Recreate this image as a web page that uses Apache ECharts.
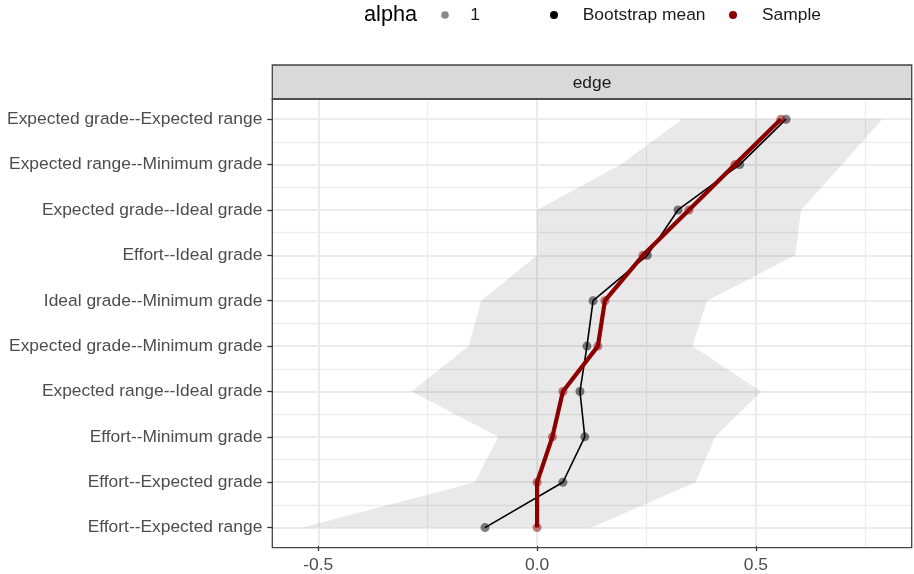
<!DOCTYPE html>
<html><head><meta charset="utf-8">
<script src="https://cdn.jsdelivr.net/npm/echarts@6/dist/echarts.min.js"></script>
<style>html,body{margin:0;padding:0;background:#fff}#c{width:914px;height:574px}</style>
</head><body><div id="c"></div>
<script>
// ---- data (top to bottom) ----
const edges = [
  'Expected grade--Expected range',
  'Expected range--Minimum grade',
  'Expected grade--Ideal grade',
  'Effort--Ideal grade',
  'Ideal grade--Minimum grade',
  'Expected grade--Minimum grade',
  'Expected range--Ideal grade',
  'Effort--Minimum grade',
  'Effort--Expected grade',
  'Effort--Expected range'
];
const bootstrapMean = [0.569, 0.463, 0.322, 0.252, 0.128, 0.114, 0.098, 0.109, 0.059, -0.119];
const sample        = [0.557, 0.452, 0.347, 0.242, 0.155, 0.139, 0.059, 0.035, 0.000, 0.000];
const ciLower       = [0.331, 0.191, 0.000, 0.000, -0.128, -0.156, -0.287, -0.089, -0.142, -0.536];
const ciUpper       = [0.789, 0.697, 0.603, 0.590, 0.388, 0.355, 0.512, 0.407, 0.362, 0.125];
const xTickValues = [-0.5, 0, 0.5];
const stripLabel = 'edge';
const legendTitle = 'alpha';
const legendAlphaLabel = '1';
const seriesNames = ['Bootstrap mean', 'Sample'];

// ---- layout ----
const font = '"Liberation Sans", Arial, Helvetica, sans-serif';
const PL = 272.3, PR = 911.7, PT = 99, PB = 547.7;
const yIdx = edges.map((_, i) => i + 1);

const chart = echarts.init(document.getElementById('c'), null, {renderer: 'canvas'});

const option = {
  animation: false,
  backgroundColor: '#fff',
  grid: {left: PL, right: 914 - PR, top: PT, bottom: 574 - PB, containLabel: false},
  xAxis: {
    type: 'value', min: -0.605, max: 0.856, minInterval: 0.5, maxInterval: 0.5,
    axisLine: {show: false, onZero: false},
    axisTick: {show: true, length: 5, customValues: xTickValues, lineStyle: {color: '#333', width: 1.3}},
    axisLabel: {
      customValues: xTickValues, color: '#4d4d4d', fontSize: 17.4, fontFamily: font, margin: 11,
      formatter: v => (Math.abs(v * 2 - Math.round(v * 2)) < 1e-6 ? v.toFixed(1) : '')
    },
    splitLine: {show: true, lineStyle: {color: '#ebebeb', width: 2}},
    minorTick: {show: false, splitNumber: 2},
    minorSplitLine: {show: true, lineStyle: {color: '#ededed', width: 1.3}}
  },
  yAxis: {
    type: 'value', inverse: true, min: 0.555, max: 10.405, minInterval: 1, maxInterval: 1,
    axisLine: {show: false, onZero: false},
    axisTick: {show: true, length: 5, customValues: yIdx, lineStyle: {color: '#333', width: 1.3}},
    axisLabel: {
      customValues: yIdx, color: '#4d4d4d', fontSize: 17.4, fontFamily: font, margin: 10,
      padding: [3, 0, 0, 0],
      formatter: v => {
        const r = Math.round(v);
        return Math.abs(v - r) < 1e-6 && r >= 1 && r <= edges.length ? edges[r - 1] : '';
      }
    },
    splitLine: {show: true, lineStyle: {color: '#ebebeb', width: 2}},
    minorTick: {show: false, splitNumber: 2},
    minorSplitLine: {show: true, lineStyle: {color: '#ededed', width: 1.3}}
  },
  series: [
    {
      type: 'custom', name: 'ci', silent: true, z: 2, clip: true,
      data: [[0, 1]],
      renderItem: (params, api) => {
        const pts = [];
        for (let i = 0; i < edges.length; i++) pts.push(api.coord([ciUpper[i], yIdx[i]]));
        for (let i = edges.length - 1; i >= 0; i--) pts.push(api.coord([ciLower[i], yIdx[i]]));
        return {type: 'polygon', shape: {points: pts}, style: {fill: 'rgba(0,0,0,0.085)'}};
      }
    },
    {
      type: 'line', name: seriesNames[0], z: 3,
      data: bootstrapMean.map((v, i) => [v, yIdx[i]]),
      symbol: 'circle', symbolSize: 9, showSymbol: true,
      lineStyle: {color: '#000', width: 1.6},
      itemStyle: {color: 'rgba(0,0,0,0.5)'}
    },
    {
      type: 'line', name: seriesNames[1], z: 4,
      data: sample.map((v, i) => [v, yIdx[i]]),
      symbol: 'circle', symbolSize: 9, showSymbol: true,
      lineStyle: {color: '#8b0000', width: 4.2},
      itemStyle: {color: 'rgba(139,0,0,0.5)'}
    }
  ],
  graphic: [
    {type: 'rect', z: 100, shape: {x: PL, y: 65, width: PR - PL, height: PT - 65},
      style: {fill: '#d9d9d9', stroke: '#444', lineWidth: 1.3}},
    {type: 'text', z: 101, style: {text: stripLabel, x: (PL + PR) / 2, y: 83, textAlign: 'center', textVerticalAlign: 'middle',
      align: 'center', verticalAlign: 'middle', fontSize: 17.4, fontFamily: font, fill: '#1a1a1a'}},
    {type: 'rect', z: 100, shape: {x: PL, y: PT, width: PR - PL, height: PB - PT},
      style: {fill: null, stroke: '#444', lineWidth: 1.3}},
    // legend
    {type: 'text', z: 101, style: {text: legendTitle, x: 364, y: 15, textAlign: 'left', textVerticalAlign: 'middle',
      align: 'left', verticalAlign: 'middle', fontSize: 21.7, fontFamily: font, fill: '#000'}},
    {type: 'circle', z: 101, shape: {cx: 445, cy: 15, r: 3.8}, style: {fill: '#8a8a8a'}},
    {type: 'text', z: 101, style: {text: legendAlphaLabel, x: 475, y: 15, textAlign: 'center', textVerticalAlign: 'middle',
      align: 'center', verticalAlign: 'middle', fontSize: 17.4, fontFamily: font, fill: '#1a1a1a'}},
    {type: 'circle', z: 101, shape: {cx: 554, cy: 15, r: 4}, style: {fill: '#000'}},
    {type: 'text', z: 101, style: {text: seriesNames[0], x: 582.7, y: 15, textAlign: 'left', textVerticalAlign: 'middle',
      align: 'left', verticalAlign: 'middle', fontSize: 17.4, fontFamily: font, fill: '#1a1a1a'}},
    {type: 'circle', z: 101, shape: {cx: 733, cy: 15, r: 4}, style: {fill: '#8b0000'}},
    {type: 'text', z: 101, style: {text: seriesNames[1], x: 762, y: 15, textAlign: 'left', textVerticalAlign: 'middle',
      align: 'left', verticalAlign: 'middle', fontSize: 17.4, fontFamily: font, fill: '#1a1a1a'}}
  ]
};
chart.setOption(option);
</script>
</body></html>
